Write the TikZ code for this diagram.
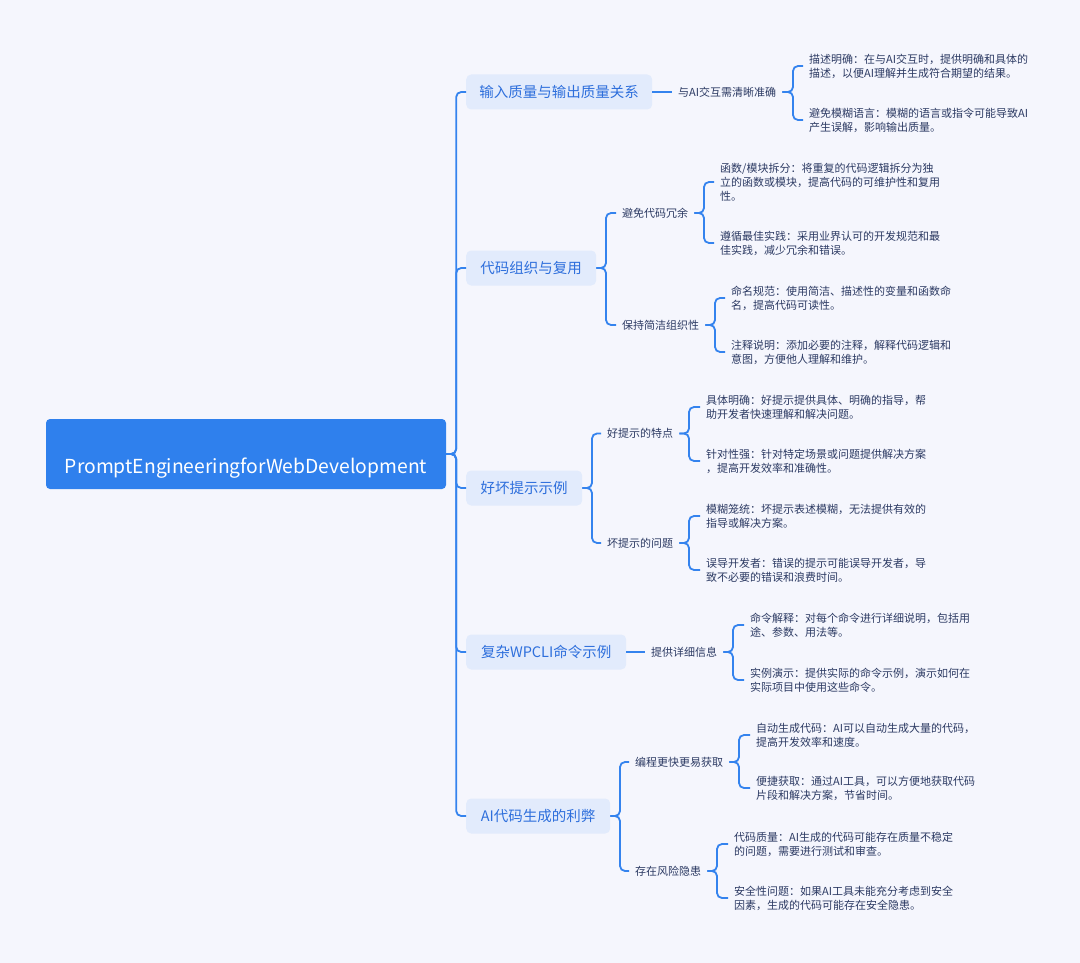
\documentclass[tikz,border=0pt]{standalone}
\usepackage{fontspec}
\setmainfont{Noto Sans CJK SC}
\usetikzlibrary{calc}
\definecolor{bgc}{HTML}{F5F6FD}
\definecolor{rootc}{HTML}{2F80ED}
\definecolor{lonefill}{HTML}{E2EBFC}
\definecolor{lonetext}{HTML}{2E6FDC}
\definecolor{darkt}{HTML}{2C3A63}
\definecolor{linec}{HTML}{3483EE}
\begin{document}
\begin{tikzpicture}[x=1pt,y=-1pt,
  conn/.style={draw=linec, line width=1.8pt, rounded corners=5pt},
  rootnode/.style={fill=rootc, rounded corners=4pt, minimum width=400pt, minimum height=70pt, inner sep=0pt, text=white, font=\fontsize{19.3}{23}\selectfont},
  lone/.style={fill=lonefill, rounded corners=5pt, minimum height=35pt, inner sep=0pt, text=lonetext, font=\fontsize{14.5}{17}\selectfont, anchor=west},
  ltwo/.style={inner xsep=6pt, inner ysep=2pt, text=darkt, font=\fontsize{11}{14}\selectfont, anchor=west},
  leaf/.style={inner xsep=6pt, inner ysep=0pt, text=darkt, font=\fontsize{11}{14}\selectfont, align=left, anchor=west}]
\useasboundingbox (0,0) rectangle (1080,963);
\fill[bgc] (0,0) rectangle (1080,963);

% root
\node[rootnode] (root) at (246,454) {\raisebox{-19pt}[0pt][0pt]{PromptEngineeringforWebDevelopment}};

% level 1
\node[lone, minimum width=186pt] (b1) at (466,92) {输入质量与输出质量关系};
\node[lone, minimum width=130pt] (b2) at (466,268) {代码组织与复用};
\node[lone, minimum width=116pt] (b3) at (466,488) {好坏提示示例};
\node[lone, minimum width=160pt] (b4) at (466,652) {复杂WPCLI命令示例};
\node[lone, minimum width=144pt] (b5) at (466,816) {AI代码生成的利弊};

% level 2
\node[ltwo] (c1) at (672,92) {与AI交互需清晰准确};
\node[ltwo] (c2) at (616,213) {避免代码冗余};
\node[ltwo] (c3) at (616,325) {保持简洁组织性};
\node[ltwo] (c4) at (601,433.5) {好提示的特点};
\node[ltwo] (c5) at (601,543) {坏提示的问题};
\node[ltwo] (c6) at (645,652) {提供详细信息};
\node[ltwo] (c7) at (629,762) {编程更快更易获取};
\node[ltwo] (c8) at (629,871) {存在风险隐患};

% leaves
\node[leaf] (d1) at (803,66) {描述明确：在与AI交互时，提供明确和具体的\\描述，以便AI理解并生成符合期望的结果。};
\node[leaf] (d2) at (803,120) {避免模糊语言：模糊的语言或指令可能导致AI\\产生误解，影响输出质量。};
\node[leaf] (d3) at (714,182) {函数/模块拆分：将重复的代码逻辑拆分为独\\立的函数或模块，提高代码的可维护性和复用\\性。};
\node[leaf] (d4) at (714,243) {遵循最佳实践：采用业界认可的开发规范和最\\佳实践，减少冗余和错误。};
\node[leaf] (d5) at (725,298) {命名规范：使用简洁、描述性的变量和函数命\\名，提高代码可读性。};
\node[leaf] (d6) at (725,352) {注释说明：添加必要的注释，解释代码逻辑和\\意图，方便他人理解和维护。};
\node[leaf] (d7) at (700,407) {具体明确：好提示提供具体、明确的指导，帮\\助开发者快速理解和解决问题。};
\node[leaf] (d8) at (700,461) {针对性强：针对特定场景或问题提供解决方案\\，提高开发效率和准确性。};
\node[leaf] (d9) at (700,516) {模糊笼统：坏提示表述模糊，无法提供有效的\\指导或解决方案。};
\node[leaf] (d10) at (700,570) {误导开发者：错误的提示可能误导开发者，导\\致不必要的错误和浪费时间。};
\node[leaf] (d11) at (744,625) {命令解释：对每个命令进行详细说明，包括用\\途、参数、用法等。};
\node[leaf] (d12) at (744,680) {实例演示：提供实际的命令示例，演示如何在\\实际项目中使用这些命令。};
\node[leaf] (d13) at (750,735) {自动生成代码：AI可以自动生成大量的代码，\\提高开发效率和速度。};
\node[leaf] (d14) at (750,788) {便捷获取：通过AI工具，可以方便地获取代码\\片段和解决方案，节省时间。};
\node[leaf] (d15) at (728,844) {代码质量：AI生成的代码可能存在质量不稳定\\的问题，需要进行测试和审查。};
\node[leaf] (d16) at (728,898) {安全性问题：如果AI工具未能充分考虑到安全\\因素，生成的代码可能存在安全隐患。};

% vertical positions of brackets
\coordinate (v2) at (606,0);
\coordinate (v3) at (592,0);
\coordinate (v5) at (620,0);
\coordinate (w1) at (793,0);
\coordinate (w2) at (704,0);
\coordinate (w3) at (715,0);
\coordinate (w4) at (689,0);
\coordinate (w5) at (689,0);
\coordinate (w6) at (733,0);
\coordinate (w7) at (739,0);
\coordinate (w8) at (717,0);

% root to level 1
\foreach \b in {b1,b2,b3,b4,b5}
  \draw[conn] (root.east) -- ++(10,0) |- (\b.west);

% level 1 to level 2
\draw[conn] (b1.east) -- (c1.west);
\draw[conn] (b2.east) -- (b2.east -| v2) |- (c2.west);
\draw[conn] (b2.east) -- (b2.east -| v2) |- (c3.west);
\draw[conn] (b3.east) -- (b3.east -| v3) |- (c4.west);
\draw[conn] (b3.east) -- (b3.east -| v3) |- (c5.west);
\draw[conn] (b4.east) -- (c6.west);
\draw[conn] (b5.east) -- (b5.east -| v5) |- (c7.west);
\draw[conn] (b5.east) -- (b5.east -| v5) |- (c8.west);

% level 2 to leaves
\draw[conn] (c1.east) -- (c1.east -| w1) |- (d1.west);
\draw[conn] (c1.east) -- (c1.east -| w1) |- (d2.west);
\draw[conn] (c2.east) -- (c2.east -| w2) |- (d3.west);
\draw[conn] (c2.east) -- (c2.east -| w2) |- (d4.west);
\draw[conn] (c3.east) -- (c3.east -| w3) |- (d5.west);
\draw[conn] (c3.east) -- (c3.east -| w3) |- (d6.west);
\draw[conn] (c4.east) -- (c4.east -| w4) |- (d7.west);
\draw[conn] (c4.east) -- (c4.east -| w4) |- (d8.west);
\draw[conn] (c5.east) -- (c5.east -| w5) |- (d9.west);
\draw[conn] (c5.east) -- (c5.east -| w5) |- (d10.west);
\draw[conn] (c6.east) -- (c6.east -| w6) |- (d11.west);
\draw[conn] (c6.east) -- (c6.east -| w6) |- (d12.west);
\draw[conn] (c7.east) -- (c7.east -| w7) |- (d13.west);
\draw[conn] (c7.east) -- (c7.east -| w7) |- (d14.west);
\draw[conn] (c8.east) -- (c8.east -| w8) |- (d15.west);
\draw[conn] (c8.east) -- (c8.east -| w8) |- (d16.west);
\end{tikzpicture}
\end{document}
